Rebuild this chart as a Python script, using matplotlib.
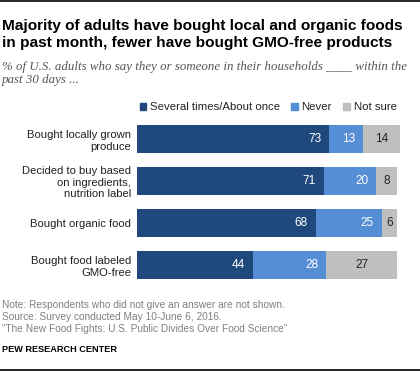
"""Pew chart: adults buying local, organic and GMO-free food in past month"""
import matplotlib.pyplot as plt
from matplotlib.patches import Patch

plt.rcParams['font.family'] = ['Liberation Sans', 'DejaVu Sans']

categories = ["Bought locally grown\nproduce",
              "Decided to buy based\non ingredients,\nnutrition label",
              "Bought organic food",
              "Bought food labeled\nGMO-free"]
several = [73, 71, 68, 44]
never = [13, 20, 25, 28]
not_sure = [14, 8, 6, 27]
series_names = ["Several times/About once", "Never", "Not sure"]
colors = ["#1f497d", "#558ed5", "#bfbfbf"]

W, H = 420, 371
fig = plt.figure(figsize=(W / 100, H / 100), dpi=100)


def fy(px):
    return 1 - px / H


ax = fig.add_axes([137 / W, fy(286), 263 / W, 168 / H])
ypos = range(len(categories))
left = [0] * len(categories)
for vals, col, name in zip([several, never, not_sure], colors, series_names):
    ax.barh(ypos, vals, left=left, height=0.66, color=col, label=name)
    for y, v, l in zip(ypos, vals, left):
        if col == colors[2]:
            ax.text(l + v / 2, y, str(v), ha='center', va='center',
                    fontsize=8.5, color='#222222')
        else:
            ax.text(l + v - 3, y, str(v), ha='right', va='center',
                    fontsize=8.5, color='white')
    left = [a + b for a, b in zip(left, vals)]

ax.set_xlim(0, 100)
ax.set_ylim(3.5, -0.5)
ax.set_yticks(list(ypos))
ax.set_yticklabels(categories, fontsize=8.1, color='#222222', linespacing=1.2)
ax.tick_params(axis='y', length=0, pad=4.3)
ax.set_xticks([])
for s in ax.spines.values():
    s.set_visible(False)

handles = [Patch(color=c) for c in colors]
ax.legend(handles, series_names, loc='lower left', bbox_to_anchor=(-0.012, 1.0),
          ncol=3, frameon=False, fontsize=8.2, handlelength=0.6, handleheight=0.6,
          handletextpad=0.3, columnspacing=1.0, borderaxespad=0.1,
          labelcolor='#222222')

# title block (baseline of the last line)
fig.text(2 / W, fy(47), "Majority of adults have bought local and organic foods\n"
         "in past month, fewer have bought GMO-free products",
         fontsize=11.05, fontweight='bold', va='baseline', linespacing=1.25)
fig.text(2 / W, fy(83), "% of U.S. adults who say they or someone in their households ____ within the\n"
         "past 30 days ...", fontsize=9.3, style='italic', family='Liberation Serif',
         color='#555555', va='baseline', linespacing=1.15)

# notes
fig.text(2 / W, fy(332), "Note: Respondents who did not give an answer are not shown.\n"
         "Source: Survey conducted May 10-June 6, 2016.\n"
         "\u201cThe New Food Fights: U.S. Public Divides Over Food Science\u201d",
         fontsize=7.3, color='#808080', va='baseline', linespacing=1.25)
fig.text(2 / W, fy(352), "PEW RESEARCH CENTER", fontsize=6.6, fontweight='bold',
         va='baseline')

fig.add_artist(plt.Line2D([0, 1], [fy(1), fy(1)], color='black', linewidth=1.2))
fig.add_artist(plt.Line2D([0, 1], [fy(369.5), fy(369.5)], color='black', linewidth=1.2))

plt.savefig("out.png", dpi=100)
